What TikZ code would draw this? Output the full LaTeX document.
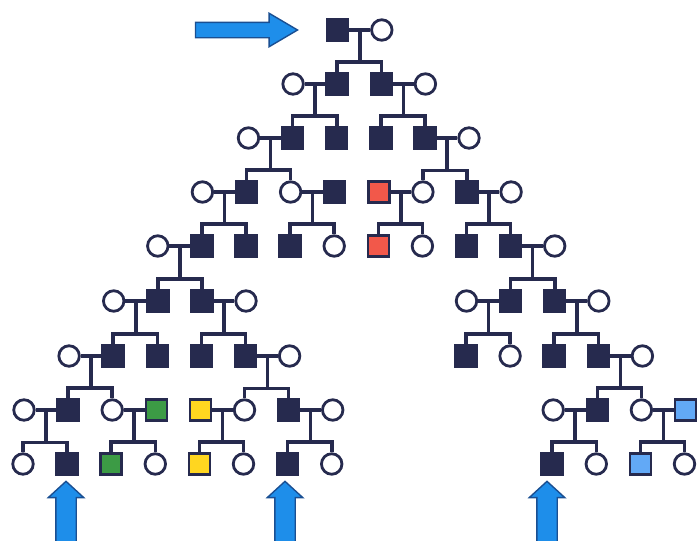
\documentclass[tikz,border=0pt]{standalone}
\usetikzlibrary{calc,shapes.arrows}
\definecolor{navy}{HTML}{262A4E}
\definecolor{pred}{HTML}{F2584A}
\definecolor{pgreen}{HTML}{3C9B45}
\definecolor{pyellow}{HTML}{FFD620}
\definecolor{plblue}{HTML}{62A9F6}
\definecolor{abl}{HTML}{1E8EEA}
\definecolor{abd}{HTML}{1A4F92}
\tikzset{
  sq/.style={rectangle, draw=navy, fill=navy, line width=2.5pt, minimum size=21pt, inner sep=0pt},
  sqred/.style={sq, fill=pred},
  sqgreen/.style={sq, fill=pgreen},
  sqyellow/.style={sq, fill=pyellow},
  sqlb/.style={sq, fill=plblue},
  ci/.style={circle, draw=navy, fill=white, line width=2.8pt, minimum size=20.5pt, inner sep=0pt},
  link/.style={draw=navy, line width=3.6pt},
  pointer/.style={single arrow, draw=abd, fill=abl, line width=1.4pt, inner xsep=0pt},
}
\def\rowoff{0}
\def\rowy{0}
\newcommand\pn[3]{\node[#1] (r#2c#3) at ({24+44.1*#3+\rowoff},\rowy) {};}
\newcommand\kin[4]{%
  \coordinate (#1m) at ($(#1)!.5!(#2)$);
  \coordinate (#3s) at ($(#3.north)+(0,10pt)$);
  \draw[link] (#1) -- (#2);
  \draw[link] (#1m) -- (#1m |- #3s);
  \draw[link] (#3.north) -- (#3s) -| (#4.north);
}
\begin{document}
\begin{tikzpicture}[x=1pt,y=-1pt]
\useasboundingbox (0,0) rectangle (697,541);
% row 1
\def\rowy{30}\def\rowoff{5}
\pn{sq}{1}{7}\pn{ci}{1}{8}
% row 2
\def\rowy{84}\def\rowoff{4.5}
\pn{ci}{2}{6}\pn{sq}{2}{7}\pn{sq}{2}{8}\pn{ci}{2}{9}
% row 3
\def\rowy{138}\def\rowoff{4}
\pn{ci}{3}{5}\pn{sq}{3}{6}\pn{sq}{3}{7}\pn{sq}{3}{8}\pn{sq}{3}{9}\pn{ci}{3}{10}
% row 4
\def\rowy{192}\def\rowoff{2}
\pn{ci}{4}{4}\pn{sq}{4}{5}\pn{ci}{4}{6}\pn{sq}{4}{7}\pn{sqred}{4}{8}\pn{ci}{4}{9}\pn{sq}{4}{10}\pn{ci}{4}{11}
% row 5
\def\rowy{246}\def\rowoff{1.5}
\pn{ci}{5}{3}\pn{sq}{5}{4}\pn{sq}{5}{5}\pn{sq}{5}{6}\pn{ci}{5}{7}\pn{sqred}{5}{8}\pn{ci}{5}{9}\pn{sq}{5}{10}\pn{sq}{5}{11}\pn{ci}{5}{12}
% row 6
\def\rowy{301}\def\rowoff{1.5}
\pn{ci}{6}{2}\pn{sq}{6}{3}\pn{sq}{6}{4}\pn{ci}{6}{5}
\pn{ci}{6}{10}\pn{sq}{6}{11}\pn{sq}{6}{12}\pn{ci}{6}{13}
% row 7
\def\rowy{356}\def\rowoff{1}
\pn{ci}{7}{1}\pn{sq}{7}{2}\pn{sq}{7}{3}\pn{sq}{7}{4}\pn{sq}{7}{5}\pn{ci}{7}{6}
\pn{sq}{7}{10}\pn{ci}{7}{11}\pn{sq}{7}{12}\pn{sq}{7}{13}\pn{ci}{7}{14}
% row 8
\def\rowy{410}\def\rowoff{0}
\pn{ci}{8}{0}\pn{sq}{8}{1}\pn{ci}{8}{2}\pn{sqgreen}{8}{3}\pn{sqyellow}{8}{4}\pn{ci}{8}{5}\pn{sq}{8}{6}\pn{ci}{8}{7}
\pn{ci}{8}{12}\pn{sq}{8}{13}\pn{ci}{8}{14}\pn{sqlb}{8}{15}
% row 9
\def\rowy{464}\def\rowoff{-1}
\pn{ci}{9}{0}\pn{sq}{9}{1}\pn{sqgreen}{9}{2}\pn{ci}{9}{3}\pn{sqyellow}{9}{4}\pn{ci}{9}{5}\pn{sq}{9}{6}\pn{ci}{9}{7}
\pn{sq}{9}{12}\pn{ci}{9}{13}\pn{sqlb}{9}{14}\pn{ci}{9}{15}
% families
\kin{r1c7}{r1c8}{r2c7}{r2c8}
\kin{r2c6}{r2c7}{r3c6}{r3c7}
\kin{r2c8}{r2c9}{r3c8}{r3c9}
\kin{r3c5}{r3c6}{r4c5}{r4c6}
\kin{r3c9}{r3c10}{r4c9}{r4c10}
\kin{r4c4}{r4c5}{r5c4}{r5c5}
\kin{r4c6}{r4c7}{r5c6}{r5c7}
\kin{r4c8}{r4c9}{r5c8}{r5c9}
\kin{r4c10}{r4c11}{r5c10}{r5c11}
\kin{r5c3}{r5c4}{r6c3}{r6c4}
\kin{r5c11}{r5c12}{r6c11}{r6c12}
\kin{r6c2}{r6c3}{r7c2}{r7c3}
\kin{r6c4}{r6c5}{r7c4}{r7c5}
\kin{r6c10}{r6c11}{r7c10}{r7c11}
\kin{r6c12}{r6c13}{r7c12}{r7c13}
\kin{r7c1}{r7c2}{r8c1}{r8c2}
\kin{r7c5}{r7c6}{r8c5}{r8c6}
\kin{r7c13}{r7c14}{r8c13}{r8c14}
\kin{r8c0}{r8c1}{r9c0}{r9c1}
\kin{r8c2}{r8c3}{r9c2}{r9c3}
\kin{r8c4}{r8c5}{r9c4}{r9c5}
\kin{r8c6}{r8c7}{r9c6}{r9c7}
\kin{r8c12}{r8c13}{r9c12}{r9c13}
\kin{r8c14}{r8c15}{r9c14}{r9c15}
% pointers
\node[pointer, minimum height=102pt, inner ysep=7pt, single arrow head extend=9pt, single arrow tip angle=61] (ptop) at (240,30) {};
\node[pointer, rotate=90, minimum height=64pt, inner ysep=9.5pt, single arrow head extend=7.5pt, single arrow tip angle=95] (pb1) at (66,518) {};
\node[pointer, rotate=90, minimum height=64pt, inner ysep=9.5pt, single arrow head extend=7.5pt, single arrow tip angle=95] (pb2) at (285,518) {};
\node[pointer, rotate=90, minimum height=64pt, inner ysep=9.5pt, single arrow head extend=7.5pt, single arrow tip angle=95] (pb3) at (547,518) {};
\end{tikzpicture}
\end{document}
